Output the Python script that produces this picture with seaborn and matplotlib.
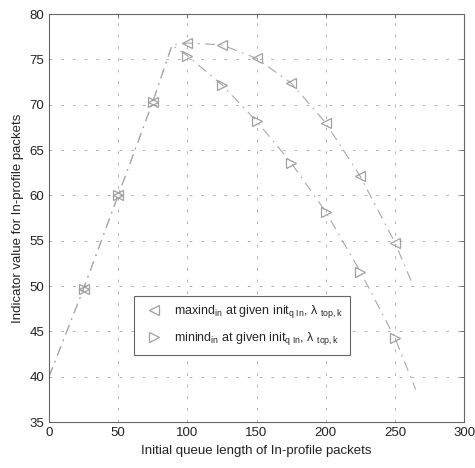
import matplotlib
matplotlib.use("Agg")
import matplotlib.pyplot as plt
import seaborn as sns
from matplotlib.lines import Line2D

# ---- data ----
queue_len = [25, 50, 75, 100, 125, 150, 175, 200, 225, 250]
maxind = [49.7, 60.0, 70.3, 76.8, 76.6, 75.1, 72.4, 68.0, 62.1, 54.8]
minind = [49.7, 60.0, 70.3, 75.4, 72.2, 68.2, 63.6, 58.2, 51.6, 44.3]

# dash-dot fitted curves
curve_max_x = [0, 25, 50, 75, 89, 100, 125, 150, 175, 200, 225, 250, 262]
curve_max_y = [40.0, 49.7, 60.0, 70.3, 76.6, 76.8, 76.6, 75.1, 72.4, 68.0, 62.1, 54.8, 50.5]
curve_min_x = [0, 25, 50, 75, 89, 100, 125, 150, 175, 200, 225, 250, 265]
curve_min_y = [40.0, 49.7, 60.0, 70.3, 76.6, 75.4, 72.2, 68.2, 63.6, 58.2, 51.6, 44.3, 38.6]

x_ticks = [0, 50, 100, 150, 200, 250, 300]
y_ticks = [35, 40, 45, 50, 55, 60, 65, 70, 75, 80]

label_max = r"maxind$_{\rm in}$ at given init$_{\rm q\ In}$, $\lambda$ $_{\rm top,k}$"
label_min = r"minind$_{\rm in}$ at given init$_{\rm q\ In}$, $\lambda$ $_{\rm top,k}$"

sns.set_style("white")
plt.rcParams["font.family"] = ["Liberation Sans", "DejaVu Sans"]
plt.rcParams["mathtext.fontset"] = "custom"
plt.rcParams["mathtext.rm"] = "Liberation Sans"
plt.rcParams["mathtext.it"] = "Liberation Sans"

fig = plt.figure(figsize=(4.75, 4.68), dpi=100)
ax = fig.add_axes([0.103, 0.098, 0.874, 0.872])

line_col = "#a8a8a8"
mark_col = "#a0a0a0"

sns.lineplot(x=curve_max_x, y=curve_max_y, ax=ax, sort=False, color=line_col,
             linewidth=0.8, linestyle=(0, (9, 5, 1.5, 5)), estimator=None)
sns.lineplot(x=curve_min_x, y=curve_min_y, ax=ax, sort=False, color=line_col,
             linewidth=0.8, linestyle=(0, (9, 5, 1.5, 5)), estimator=None)

sns.lineplot(x=queue_len, y=maxind, ax=ax, sort=False, estimator=None,
             linestyle="none", marker="<", markersize=7.5, markerfacecolor="none",
             markeredgecolor=mark_col, markeredgewidth=0.9, color=mark_col)
sns.lineplot(x=queue_len, y=minind, ax=ax, sort=False, estimator=None,
             linestyle="none", marker=">", markersize=7.5, markerfacecolor="none",
             markeredgecolor=mark_col, markeredgewidth=0.9, color=mark_col)

ax.set_xlim(0, 300)
ax.set_ylim(35, 80)
ax.set_xticks(x_ticks)
ax.set_yticks(y_ticks)
ax.tick_params(direction="in", length=3, width=0.6, labelsize=9.5,
               top=True, right=True, colors="#555555", labelcolor="#222222")
ax.grid(True, color="#b5b5b5", linestyle=(0, (3, 9)), linewidth=0.7)
for s in ax.spines.values():
    s.set_color("#666666")
    s.set_linewidth(0.8)

ax.set_xlabel("Initial queue length of In-profile packets", fontsize=9.5, color="#222222")
ax.set_ylabel("Indicator value for In-profile packets", fontsize=9.5, color="#222222")

handles = [
    Line2D([], [], linestyle="none", marker="<", markersize=7.5, markerfacecolor="none",
           markeredgecolor=mark_col, markeredgewidth=0.9),
    Line2D([], [], linestyle="none", marker=">", markersize=7.5, markerfacecolor="none",
           markeredgecolor=mark_col, markeredgewidth=0.9),
]
leg = ax.legend(handles, [label_max, label_min], loc="lower left",
                bbox_to_anchor=(0.19, 0.15), fontsize=9, fancybox=False,
                framealpha=1, edgecolor="#666666", borderpad=0.6,
                handletextpad=0.6, labelspacing=0.8)
leg.get_frame().set_linewidth(0.8)

fig.savefig("out.png", dpi=100)
